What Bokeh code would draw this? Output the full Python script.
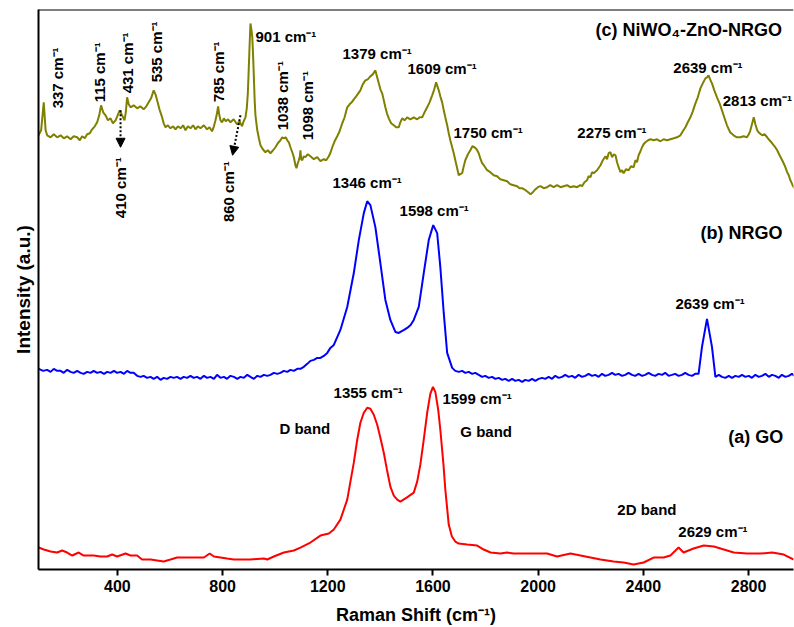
import math
from bokeh.plotting import figure
from bokeh.models import Range1d, Label, Arrow, NormalHead, Span, FixedTicker
from bokeh.embed import file_html
from bokeh.resources import INLINE

# ---------------- data ----------------
X_TICKS = [400, 800, 1200, 1600, 2000, 2400, 2800]

# (a) GO  -- red : (Raman shift, intensity a.u.)
GO = [(101, 22), (120, 20), (146, 18), (171, 17), (190, 19), (209, 17), (228, 14), (253, 17),
      (272, 14), (310, 14), (336, 13), (361, 13), (380, 15), (399, 13), (431, 16), (450, 14),
      (475, 14), (494, 10), (526, 10), (551, 9), (576, 8), (602, 10), (627, 12), (690, 12),
      (729, 12), (751, 16), (767, 13), (817, 11), (843, 10), (906, 10), (957, 11), (970, 10),
      (995, 13), (1033, 17), (1071, 19), (1096, 22), (1134, 27), (1172, 34), (1204, 36),
      (1223, 40), (1248, 50), (1274, 70), (1299, 107), (1312, 130), (1324, 147), (1337, 157),
      (1350, 162), (1362, 161), (1375, 155), (1388, 145), (1400, 132), (1413, 117), (1425, 100),
      (1438, 83), (1451, 74), (1464, 70), (1476, 68), (1500, 72), (1527, 77), (1540, 88),
      (1552, 105), (1565, 130), (1578, 157), (1590, 176), (1600, 183), (1609, 178), (1620, 160),
      (1628, 140), (1640, 105), (1647, 80), (1660, 45), (1672, 33), (1685, 28), (1698, 26),
      (1730, 25), (1768, 24), (1793, 20), (1819, 17), (1857, 16), (1882, 17), (1907, 16),
      (1983, 16), (2034, 16), (2072, 13), (2123, 16), (2161, 14), (2237, 10), (2287, 8),
      (2325, 7), (2363, 5), (2401, 7), (2439, 12), (2477, 12), (2503, 14), (2534, 22),
      (2553, 17), (2591, 21), (2630, 24), (2668, 23), (2706, 20), (2744, 17), (2794, 16),
      (2845, 16), (2890, 17), (2934, 15), (2972, 10)]

# (b) NRGO -- blue
NRGO = [(101, 201), (118, 199), (133, 200), (146, 198), (158, 201), (171, 199), (184, 199),
        (196, 197), (209, 200), (222, 198), (234, 197), (247, 199), (260, 197), (272, 196),
        (285, 198), (298, 197), (310, 199), (323, 197), (336, 198), (349, 196), (361, 198),
        (374, 197), (387, 199), (399, 197), (412, 198), (425, 196), (437, 199), (450, 197),
        (462, 197), (475, 194), (488, 193), (500, 194), (513, 192), (526, 193), (538, 191),
        (551, 193), (564, 190), (576, 192), (589, 191), (602, 193), (614, 192), (627, 193),
        (640, 191), (652, 193), (665, 192), (678, 194), (690, 192), (703, 193), (716, 191),
        (729, 194), (741, 192), (754, 193), (767, 191), (779, 195), (792, 192), (805, 193),
        (817, 191), (830, 194), (843, 193), (856, 191), (868, 193), (881, 192), (894, 195),
        (906, 193), (919, 191), (932, 194), (944, 193), (957, 195), (970, 194), (982, 195),
        (995, 197), (1008, 196), (1020, 197), (1033, 199), (1046, 198), (1058, 200),
        (1071, 199), (1084, 201), (1096, 201), (1109, 203), (1122, 206), (1134, 209),
        (1147, 210), (1160, 212), (1172, 212), (1185, 214), (1198, 217), (1210, 222),
        (1223, 225), (1248, 240), (1274, 263), (1299, 297), (1318, 330), (1337, 357),
        (1350, 369), (1362, 365), (1381, 343), (1400, 307), (1419, 270), (1438, 250),
        (1457, 238), (1470, 237), (1490, 240), (1502, 242), (1515, 245), (1527, 250),
        (1546, 263), (1565, 297), (1584, 330), (1601, 345), (1616, 337), (1628, 303),
        (1641, 257), (1654, 217), (1673, 202), (1685, 199), (1698, 198), (1711, 199),
        (1723, 197), (1736, 198), (1749, 196), (1761, 197), (1774, 195), (1787, 193),
        (1799, 194), (1812, 192), (1825, 193), (1837, 191), (1850, 192), (1863, 190),
        (1875, 191), (1888, 189), (1901, 191), (1913, 189), (1926, 190), (1939, 188),
        (1951, 190), (1964, 189), (1977, 191), (1989, 189), (2002, 191), (2015, 192),
        (2027, 191), (2040, 193), (2053, 191), (2065, 194), (2078, 192), (2091, 193),
        (2103, 195), (2116, 193), (2129, 194), (2141, 192), (2154, 195), (2167, 193),
        (2179, 194), (2192, 196), (2205, 194), (2217, 195), (2230, 193), (2243, 196),
        (2255, 194), (2268, 195), (2281, 197), (2293, 195), (2306, 196), (2319, 194),
        (2331, 195), (2344, 197), (2357, 195), (2369, 194), (2382, 196), (2395, 194),
        (2407, 195), (2420, 197), (2433, 195), (2445, 194), (2458, 196), (2471, 195),
        (2483, 197), (2496, 194), (2509, 195), (2521, 196), (2534, 194), (2547, 195),
        (2559, 197), (2572, 195), (2585, 194), (2597, 196), (2610, 196), (2623, 223),
        (2642, 251), (2661, 223), (2674, 193), (2687, 195), (2699, 193), (2712, 192),
        (2725, 194), (2737, 192), (2750, 194), (2763, 193), (2775, 195), (2788, 193),
        (2801, 194), (2813, 192), (2826, 195), (2839, 193), (2851, 194), (2864, 196),
        (2877, 193), (2889, 195), (2902, 194), (2915, 192), (2927, 195), (2940, 193),
        (2953, 194), (2965, 196), (2974, 194)]

# (c) NiWO4-ZnO-NRGO -- olive
NWZ = [(100, 435), (110, 440), (120, 468), (127, 440), (133, 435), (146, 433), (158, 436),
       (171, 433), (184, 435), (196, 432), (209, 434), (222, 431), (234, 434), (247, 433),
       (257, 430), (266, 434), (276, 432), (285, 436), (295, 437), (304, 441), (314, 444),
       (323, 448), (331, 455), (338, 465), (346, 458), (355, 455), (364, 450), (374, 452),
       (383, 447), (393, 450), (401, 455), (409, 460), (418, 455), (427, 450), (432, 458),
       (437, 473), (443, 466), (450, 463), (462, 465), (475, 462), (487, 464), (500, 461),
       (510, 464), (519, 468), (528, 472), (538, 480), (545, 476), (551, 470), (560, 461),
       (570, 453), (576, 447), (583, 443), (592, 445), (602, 442), (612, 444), (621, 441),
       (630, 444), (640, 442), (650, 445), (659, 440), (668, 444), (678, 442), (688, 445),
       (697, 441), (706, 444), (716, 442), (729, 445), (741, 441), (750, 443), (760, 439),
       (767, 444), (773, 450), (778, 456), (783, 464), (787, 456), (792, 450), (798, 448),
       (805, 452), (812, 449), (821, 451), (830, 448), (842, 451), (855, 446), (864, 449),
       (874, 444), (880, 449), (887, 453), (892, 462), (896, 477), (899, 498), (902, 520),
       (906, 547), (910, 540), (913, 533), (916, 515), (919, 493), (922, 470), (925, 455),
       (932, 440), (938, 432), (944, 425), (953, 421), (963, 418), (972, 420), (982, 417),
       (992, 420), (1001, 423), (1010, 427), (1020, 430), (1027, 433), (1033, 432),
       (1040, 433), (1046, 430), (1052, 428), (1058, 423), (1065, 418), (1071, 413),
       (1077, 405), (1081, 402), (1086, 407), (1090, 410), (1094, 414), (1096, 420),
       (1099, 411), (1103, 410), (1109, 414), (1115, 413), (1124, 416), (1134, 414),
       (1147, 411), (1160, 413), (1172, 409), (1185, 411), (1194, 410), (1204, 414),
       (1211, 418), (1217, 423), (1226, 429), (1236, 434), (1245, 439), (1255, 447),
       (1264, 453), (1274, 463), (1283, 466), (1291, 468), (1299, 471), (1308, 474),
       (1316, 477), (1324, 480), (1333, 486), (1343, 490), (1352, 491), (1362, 494),
       (1371, 496), (1381, 500), (1387, 494), (1394, 487), (1400, 481), (1407, 477),
       (1413, 470), (1419, 463), (1425, 457), (1432, 452), (1441, 447), (1451, 445),
       (1460, 443), (1470, 443), (1476, 448), (1483, 452), (1492, 450), (1502, 453),
       (1514, 451), (1527, 453), (1540, 451), (1550, 453), (1559, 453), (1568, 458),
       (1578, 463), (1587, 468), (1597, 475), (1605, 481), (1612, 488), (1617, 484),
       (1622, 480), (1628, 474), (1635, 468), (1641, 460), (1647, 453), (1654, 445),
       (1660, 437), (1666, 430), (1673, 423), (1679, 417), (1685, 410), (1692, 402),
       (1698, 395), (1704, 396), (1711, 397), (1717, 404), (1723, 410), (1733, 416),
       (1742, 420), (1750, 424), (1758, 423), (1766, 421), (1774, 417), (1781, 411),
       (1787, 407), (1796, 404), (1806, 400), (1818, 398), (1831, 395), (1844, 394),
       (1856, 391), (1869, 390), (1882, 389), (1894, 386), (1907, 385), (1920, 384),
       (1929, 382), (1939, 382), (1952, 380), (1962, 378), (1971, 376), (1980, 378),
       (1990, 381), (1999, 383), (2009, 384), (2021, 382), (2034, 383), (2046, 385),
       (2059, 383), (2072, 385), (2085, 383), (2097, 384), (2110, 385), (2122, 383),
       (2135, 384), (2148, 383), (2160, 385), (2167, 384), (2176, 388), (2186, 390),
       (2192, 394), (2199, 393), (2205, 398), (2211, 397), (2224, 400), (2237, 405),
       (2246, 410), (2256, 414), (2262, 411), (2268, 417), (2275, 418), (2281, 413),
       (2288, 416), (2294, 415), (2300, 408), (2306, 403), (2313, 398), (2319, 400),
       (2325, 397), (2334, 401), (2344, 400), (2353, 404), (2363, 403), (2370, 410),
       (2376, 408), (2382, 415), (2389, 419), (2395, 423), (2401, 426), (2408, 428),
       (2418, 430), (2427, 431), (2440, 430), (2452, 431), (2465, 429), (2477, 431),
       (2490, 430), (2503, 431), (2516, 432), (2528, 433), (2541, 435), (2550, 439),
       (2560, 443), (2569, 448), (2579, 453), (2588, 459), (2598, 467), (2607, 473),
       (2617, 482), (2626, 487), (2636, 492), (2642, 493), (2648, 495), (2654, 491),
       (2661, 487), (2670, 480), (2680, 473), (2690, 467), (2699, 460), (2709, 452),
       (2718, 445), (2730, 438), (2743, 435), (2756, 433), (2769, 433), (2781, 434),
       (2794, 433), (2801, 436), (2807, 440), (2813, 446), (2820, 453), (2826, 446),
       (2833, 440), (2842, 437), (2852, 435), (2861, 436), (2871, 433), (2880, 430),
       (2890, 427), (2899, 424), (2909, 420), (2918, 415), (2928, 410), (2937, 405),
       (2947, 398), (2953, 395), (2959, 390), (2966, 386), (2974, 382)]

GO_SHIFT = [s for s, _ in GO]
GO_INT = [v for _, v in GO]
NRGO_SHIFT = [s for s, _ in NRGO]
NRGO_INT = [v for _, v in NRGO]
NWZ_SHIFT = [s for s, _ in NWZ]
NWZ_INT = [v for _, v in NWZ]

# ---------------- annotations (text, x, y) ----------------
PEAK_LABELS = [
    ("901 cm⁻¹", 925, 534), ("1379 cm⁻¹", 1256, 517), ("1609 cm⁻¹", 1503, 502),
    ("1750 cm⁻¹", 1678, 438), ("2275 cm⁻¹", 2149, 438), ("2639 cm⁻¹", 2514, 503),
    ("2813 cm⁻¹", 2702, 470), ("1346 cm⁻¹", 1218, 388), ("1598 cm⁻¹", 1473, 360),
    ("2639 cm⁻¹", 2522, 266), ("1355 cm⁻¹", 1222, 177), ("D band", 1016, 141),
    ("1599 cm⁻¹", 1636, 171), ("G band", 1704, 138), ("2D band", 2301, 60),
    ("2629 cm⁻¹", 2533, 38),
]
VERTICAL_LABELS = [
    ("337 cm⁻¹", 172, 462), ("115 cm⁻¹", 332, 468), ("431 cm⁻¹", 438, 477),
    ("535 cm⁻¹", 549, 488), ("785 cm⁻¹", 784, 468), ("1038 cm⁻¹", 1028, 440),
    ("1098 cm⁻¹", 1123, 430), ("410 cm⁻¹", 412, 352), ("860 cm⁻¹", 822, 348),
]
SAMPLE_LABELS = [
    ("(c) NiWO₄-ZnO-NRGO", 2218, 540), ("(b) NRGO", 2617, 337), ("(a) GO", 2723, 133),
]
ARROWS = [((412, 460), (412, 423)), ((868, 455), (838, 415))]

FONT = "Liberation Sans"
INK = "black"

p = figure(width=794, height=627, x_range=Range1d(100, 2971), y_range=Range1d(0, 561),
           output_backend="svg", toolbar_location=None,
           min_border_left=38, min_border_right=1, min_border_top=9, min_border_bottom=57)
p.grid.visible = False
p.outline_line_color = None
p.background_fill_color = "white"
p.border_fill_color = "white"

p.line(GO_SHIFT, GO_INT, line_color="#ff0000", line_width=2)
p.line(NRGO_SHIFT, NRGO_INT, line_color="#0000ff", line_width=2)
p.line(NWZ_SHIFT, NWZ_INT, line_color="#808000", line_width=2)

xa = p.xaxis[0]
xa.ticker = FixedTicker(ticks=X_TICKS)
xa.minor_tick_line_color = None
xa.axis_line_width = 2
xa.axis_line_color = INK
xa.major_tick_line_width = 2
xa.major_tick_line_color = INK
xa.major_tick_out = 6
xa.major_tick_in = 0
xa.major_label_standoff = 4
xa.major_label_text_font = FONT
xa.major_label_text_font_style = "bold"
xa.major_label_text_font_size = "16px"
xa.major_label_text_color = INK
xa.axis_label = "Raman Shift (cm⁻¹)"
xa.axis_label_text_font = FONT
xa.axis_label_text_font_style = "bold"
xa.axis_label_text_font_size = "18px"
xa.axis_label_text_color = INK
xa.axis_label_standoff = 10

ya = p.yaxis[0]
ya.ticker = FixedTicker(ticks=[])
ya.major_tick_line_color = None
ya.minor_tick_line_color = None
ya.major_tick_out = 0
ya.major_tick_in = 0
ya.major_label_standoff = 0
ya.axis_line_width = 2
ya.axis_line_color = INK
ya.axis_label = "Intensity (a.u.)"
ya.axis_label_text_font = FONT
ya.axis_label_text_font_style = "bold"
ya.axis_label_text_font_size = "19px"
ya.axis_label_text_color = INK
ya.axis_label_standoff = 5

p.add_layout(Span(location=561, dimension="width", line_color=INK, line_width=2))

for t, x, y in PEAK_LABELS:
    p.add_layout(Label(x=x, y=y, text=t, text_font=FONT, text_font_style="bold",
                       text_color=INK, text_font_size="15px",
                       text_align="left", text_baseline="middle"))
for t, x, y in VERTICAL_LABELS:
    p.add_layout(Label(x=x, y=y, text=t, angle=math.pi / 2, text_font=FONT,
                       text_font_style="bold", text_color=INK, text_font_size="15px",
                       text_align="left", text_baseline="middle"))
for t, x, y in SAMPLE_LABELS:
    p.add_layout(Label(x=x, y=y, text=t, text_font=FONT, text_font_style="bold",
                       text_color=INK, text_font_size="18px",
                       text_align="left", text_baseline="middle"))
for (x0, y0), (x1, y1) in ARROWS:
    p.add_layout(Arrow(x_start=x0, y_start=y0, x_end=x1, y_end=y1,
                       end=NormalHead(size=9, fill_color=INK, line_color=INK, line_width=1),
                       line_color=INK, line_width=2, line_dash="2 2"))

open("out.html", "w").write(file_html(p, INLINE))
